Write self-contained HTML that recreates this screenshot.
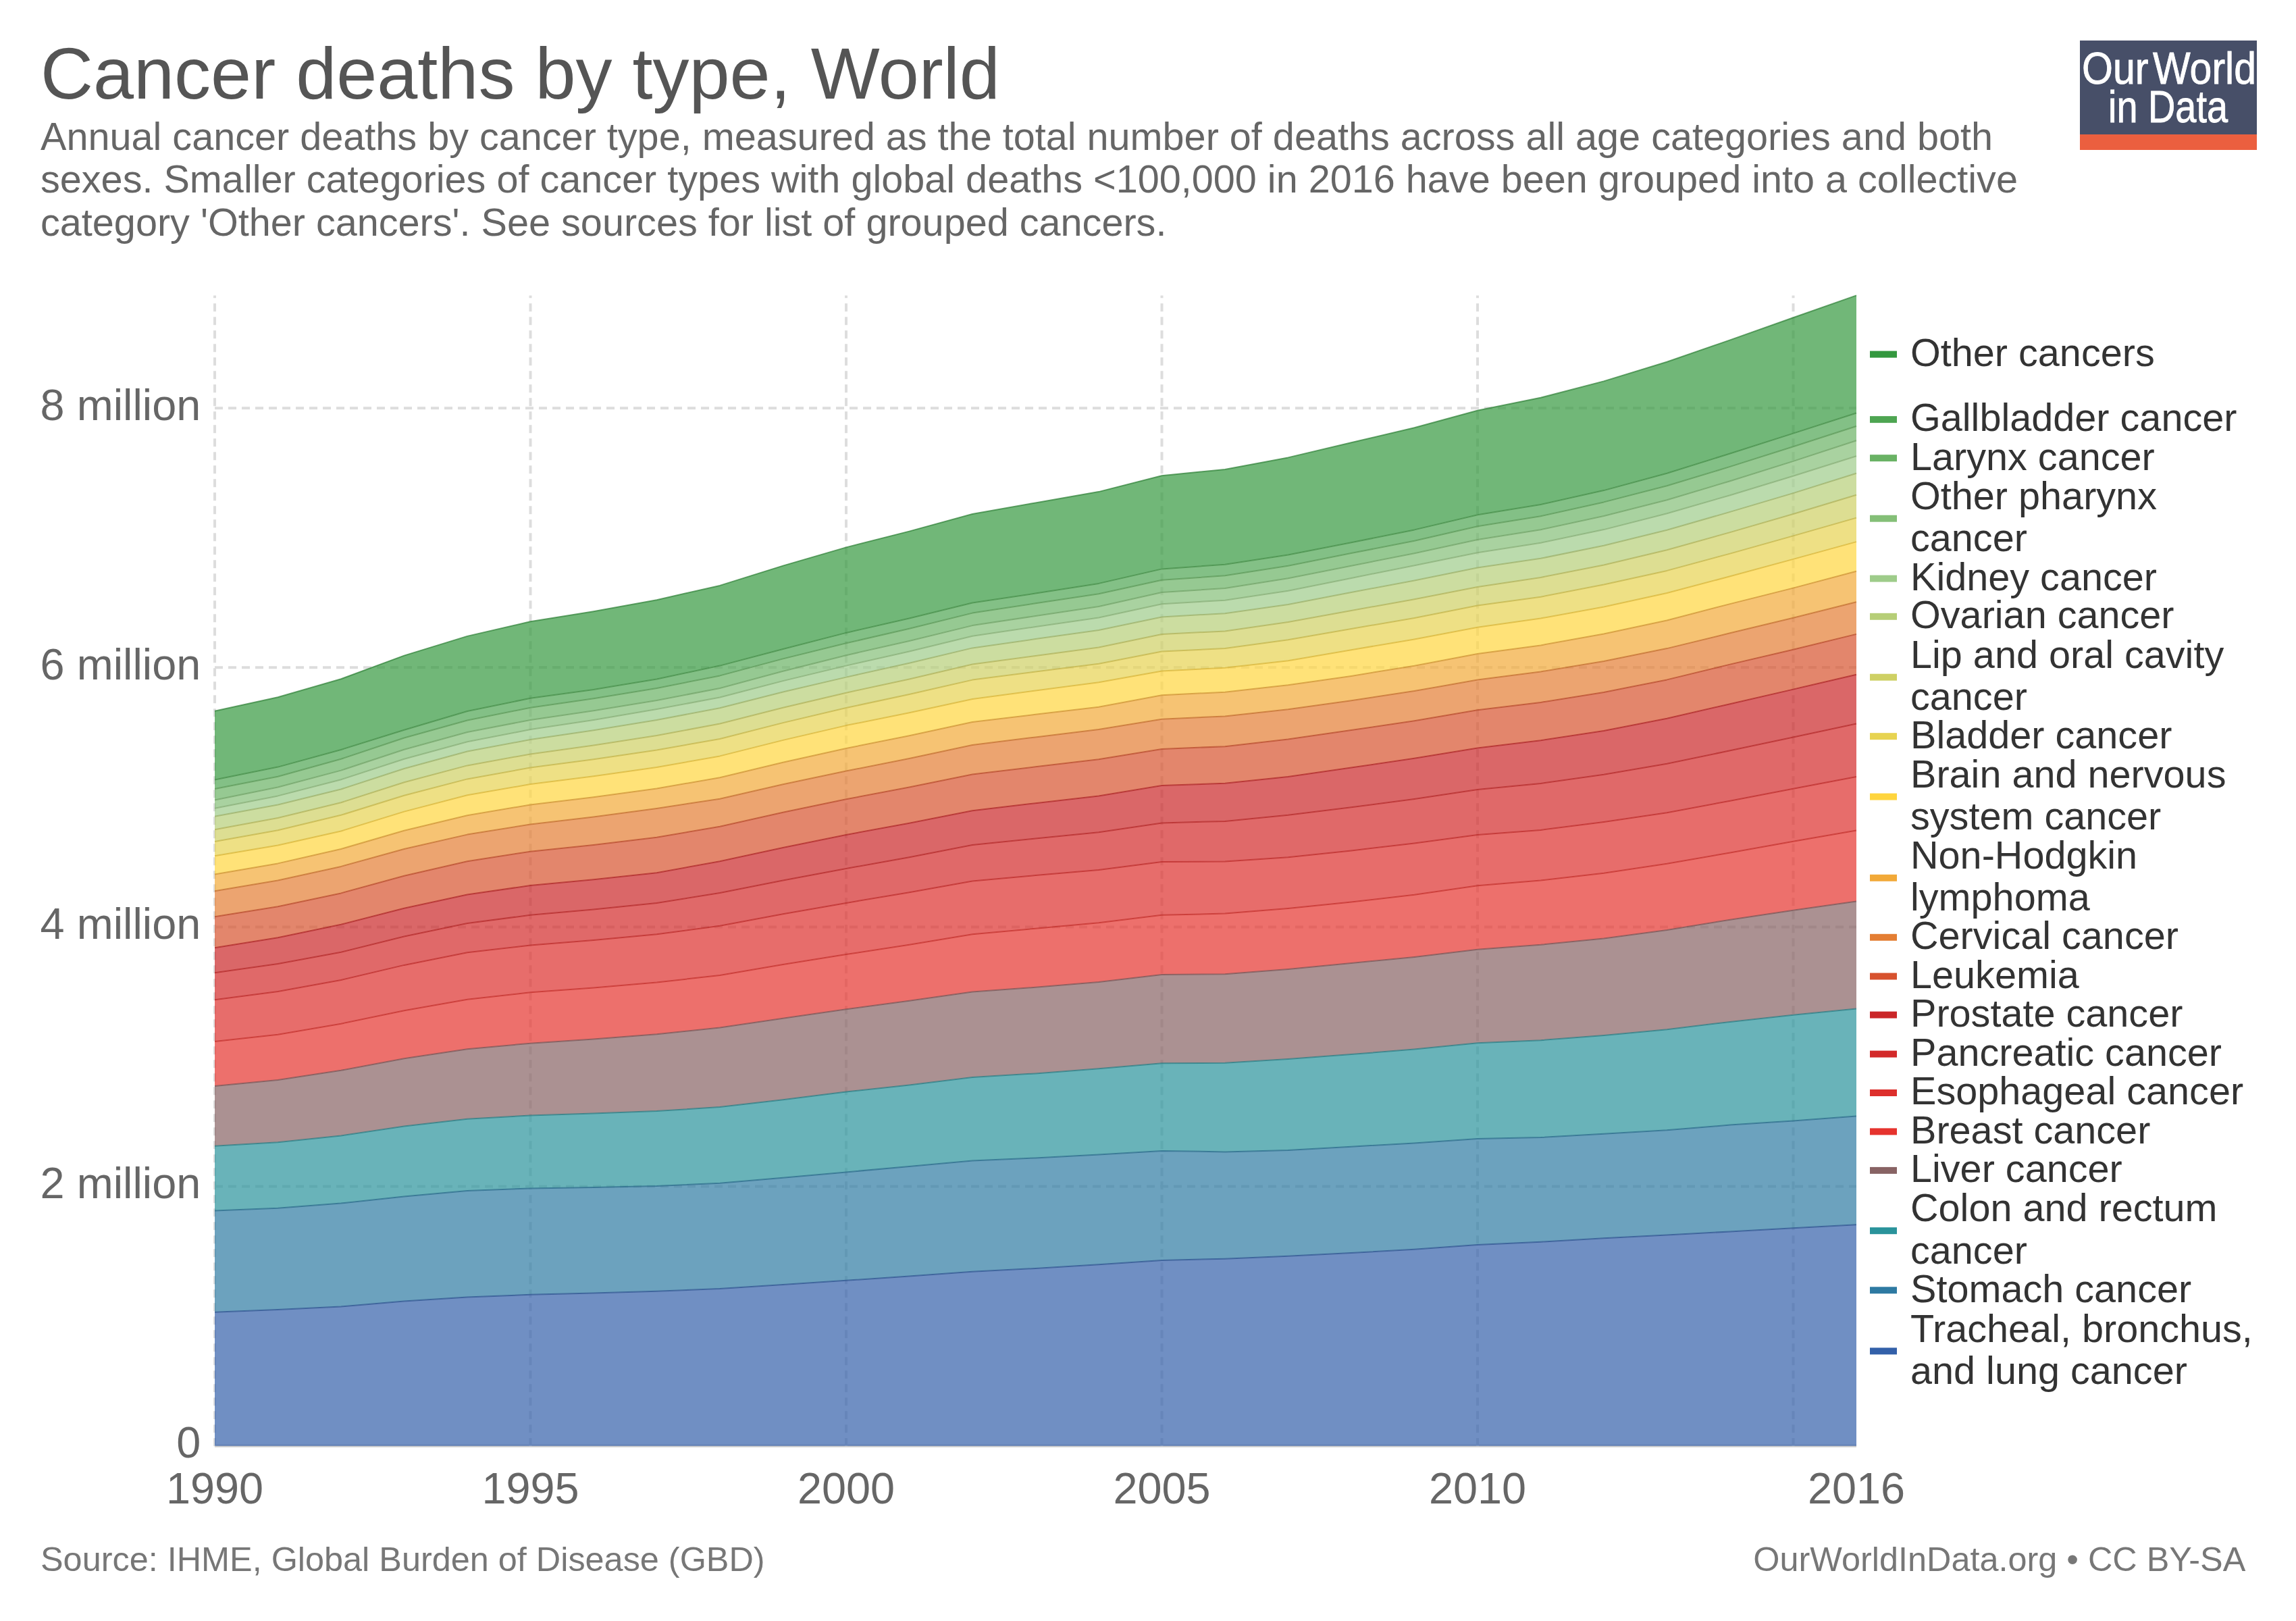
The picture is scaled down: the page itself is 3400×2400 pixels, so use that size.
<!DOCTYPE html>
<html lang="en"><head><meta charset="utf-8"><title>Cancer deaths by type, World</title>
<style>html,body{margin:0;padding:0;background:#fff}svg{display:block}text{font-family:"Liberation Sans",Arial,Helvetica,sans-serif}</style></head><body>
<svg width="3400" height="2400" viewBox="0 0 3400 2400">
<rect width="3400" height="2400" fill="#fff"/>
<text x="60" y="146" font-size="108" fill="#555">Cancer deaths by type, World</text>
<text x="60" y="221.9" font-size="57.6" fill="#666">Annual cancer deaths by cancer type, measured as the total number of deaths across all age categories and both</text>
<text x="60" y="285.3" font-size="57.6" fill="#666">sexes. Smaller categories of cancer types with global deaths &lt;100,000 in 2016 have been grouped into a collective</text>
<text x="60" y="348.6" font-size="57.6" fill="#666">category 'Other cancers'. See sources for list of grouped cancers.</text>
<g id="logo"><rect x="3080" y="60" width="262" height="162" fill="#474f68"/><rect x="3080" y="199" width="262" height="23" fill="#eb5f3f"/>
<g fill="#fff" stroke="#fff" stroke-width="0.9" font-size="66"><text x="3083" y="123.5" textLength="98.5" lengthAdjust="spacingAndGlyphs">Our</text>
<text x="3188" y="123.5" textLength="153" lengthAdjust="spacingAndGlyphs">World</text>
<text x="3122" y="181" textLength="177" lengthAdjust="spacingAndGlyphs">in Data</text></g></g>
<line x1="318.0" y1="2140.7" x2="2749.0" y2="2140.7" stroke="#ccc" stroke-width="4"/>
<g stroke="#ddd" stroke-width="4" stroke-dasharray="12,8" fill="none"><line x1="318.0" y1="1756.6" x2="2749.0" y2="1756.6"/><line x1="318.0" y1="1372.5" x2="2749.0" y2="1372.5"/><line x1="318.0" y1="988.3" x2="2749.0" y2="988.3"/><line x1="318.0" y1="604.2" x2="2749.0" y2="604.2"/><line x1="318.0" y1="2141.2" x2="318.0" y2="437.4"/><line x1="785.5" y1="2141.2" x2="785.5" y2="437.4"/><line x1="1253.0" y1="2141.2" x2="1253.0" y2="437.4"/><line x1="1720.5" y1="2141.2" x2="1720.5" y2="437.4"/><line x1="2188.0" y1="2141.2" x2="2188.0" y2="437.4"/><line x1="2655.5" y1="2141.2" x2="2655.5" y2="437.4"/></g>
<text x="297.3" y="2158.4" font-size="64.8" fill="#666" text-anchor="end">0</text>
<text x="297.3" y="1774.3" font-size="64.8" fill="#666" text-anchor="end">2 million</text>
<text x="297.3" y="1390.2" font-size="64.8" fill="#666" text-anchor="end">4 million</text>
<text x="297.3" y="1006.0" font-size="64.8" fill="#666" text-anchor="end">6 million</text>
<text x="297.3" y="621.9" font-size="64.8" fill="#666" text-anchor="end">8 million</text>
<text x="318.0" y="2226" font-size="64.8" fill="#666" text-anchor="middle">1990</text>
<text x="785.5" y="2226" font-size="64.8" fill="#666" text-anchor="middle">1995</text>
<text x="1253.0" y="2226" font-size="64.8" fill="#666" text-anchor="middle">2000</text>
<text x="1720.5" y="2226" font-size="64.8" fill="#666" text-anchor="middle">2005</text>
<text x="2188.0" y="2226" font-size="64.8" fill="#666" text-anchor="middle">2010</text>
<text x="2749.0" y="2226" font-size="64.8" fill="#666" text-anchor="middle">2016</text>
<g id="areas">
<polygon points="318.0,1942.7 411.5,1939.0 505.0,1934.4 598.5,1926.6 692.0,1920.5 785.5,1916.8 879.0,1914.5 972.5,1911.8 1066.0,1908.1 1159.5,1902.0 1253.0,1895.8 1346.5,1889.6 1440.0,1882.8 1533.5,1877.9 1627.0,1872.3 1720.5,1865.9 1814.0,1863.7 1907.5,1859.7 2001.0,1855.1 2094.5,1849.8 2188.0,1842.9 2281.5,1838.7 2375.0,1833.3 2468.5,1828.6 2562.0,1823.4 2655.5,1818.2 2749.0,1813.2 2749.0,2140.7 2655.5,2140.7 2562.0,2140.7 2468.5,2140.7 2375.0,2140.7 2281.5,2140.7 2188.0,2140.7 2094.5,2140.7 2001.0,2140.7 1907.5,2140.7 1814.0,2140.7 1720.5,2140.7 1627.0,2140.7 1533.5,2140.7 1440.0,2140.7 1346.5,2140.7 1253.0,2140.7 1159.5,2140.7 1066.0,2140.7 972.5,2140.7 879.0,2140.7 785.5,2140.7 692.0,2140.7 598.5,2140.7 505.0,2140.7 411.5,2140.7 318.0,2140.7" fill="#3360a9" fill-opacity="0.7"/>
<polygon points="318.0,1792.4 411.5,1788.7 505.0,1781.6 598.5,1771.5 692.0,1763.1 785.5,1759.4 879.0,1758.0 972.5,1756.1 1066.0,1751.7 1159.5,1743.7 1253.0,1735.4 1346.5,1727.0 1440.0,1718.4 1533.5,1714.4 1627.0,1709.6 1720.5,1703.9 1814.0,1705.4 1907.5,1703.0 2001.0,1697.7 2094.5,1692.5 2188.0,1686.0 2281.5,1684.0 2375.0,1678.8 2468.5,1673.3 2562.0,1665.6 2655.5,1659.4 2749.0,1652.6 2749.0,1813.2 2655.5,1818.2 2562.0,1823.4 2468.5,1828.6 2375.0,1833.3 2281.5,1838.7 2188.0,1842.9 2094.5,1849.8 2001.0,1855.1 1907.5,1859.7 1814.0,1863.7 1720.5,1865.9 1627.0,1872.3 1533.5,1877.9 1440.0,1882.8 1346.5,1889.6 1253.0,1895.8 1159.5,1902.0 1066.0,1908.1 972.5,1911.8 879.0,1914.5 785.5,1916.8 692.0,1920.5 598.5,1926.6 505.0,1934.4 411.5,1939.0 318.0,1942.7" fill="#2e7aa2" fill-opacity="0.7"/>
<polygon points="318.0,1696.8 411.5,1691.3 505.0,1681.4 598.5,1667.5 692.0,1656.7 785.5,1651.5 879.0,1648.6 972.5,1645.1 1066.0,1639.1 1159.5,1628.3 1253.0,1616.6 1346.5,1606.4 1440.0,1595.0 1533.5,1589.4 1627.0,1582.3 1720.5,1574.3 1814.0,1573.7 1907.5,1568.1 2001.0,1561.0 2094.5,1553.6 2188.0,1544.3 2281.5,1540.2 2375.0,1532.9 2468.5,1524.3 2562.0,1512.9 2655.5,1502.7 2749.0,1493.4 2749.0,1652.6 2655.5,1659.4 2562.0,1665.6 2468.5,1673.3 2375.0,1678.8 2281.5,1684.0 2188.0,1686.0 2094.5,1692.5 2001.0,1697.7 1907.5,1703.0 1814.0,1705.4 1720.5,1703.9 1627.0,1709.6 1533.5,1714.4 1440.0,1718.4 1346.5,1727.0 1253.0,1735.4 1159.5,1743.7 1066.0,1751.7 972.5,1756.1 879.0,1758.0 785.5,1759.4 692.0,1763.1 598.5,1771.5 505.0,1781.6 411.5,1788.7 318.0,1792.4" fill="#2a939b" fill-opacity="0.7"/>
<polygon points="318.0,1608.0 411.5,1599.0 505.0,1584.8 598.5,1567.2 692.0,1553.3 785.5,1544.7 879.0,1538.4 972.5,1531.3 1066.0,1521.5 1159.5,1507.7 1253.0,1494.2 1346.5,1481.8 1440.0,1468.5 1533.5,1461.7 1627.0,1454.0 1720.5,1443.1 1814.0,1442.2 1907.5,1435.0 2001.0,1426.1 2094.5,1416.9 2188.0,1405.7 2281.5,1398.8 2375.0,1389.5 2468.5,1377.1 2562.0,1361.7 2655.5,1347.8 2749.0,1334.5 2749.0,1493.4 2655.5,1502.7 2562.0,1512.9 2468.5,1524.3 2375.0,1532.9 2281.5,1540.2 2188.0,1544.3 2094.5,1553.6 2001.0,1561.0 1907.5,1568.1 1814.0,1573.7 1720.5,1574.3 1627.0,1582.3 1533.5,1589.4 1440.0,1595.0 1346.5,1606.4 1253.0,1616.6 1159.5,1628.3 1066.0,1639.1 972.5,1645.1 879.0,1648.6 785.5,1651.5 692.0,1656.7 598.5,1667.5 505.0,1681.4 411.5,1691.3 318.0,1696.8" fill="#886364" fill-opacity="0.7"/>
<polygon points="318.0,1541.9 411.5,1531.8 505.0,1515.7 598.5,1496.3 692.0,1479.8 785.5,1469.3 879.0,1462.4 972.5,1454.5 1066.0,1444.0 1159.5,1428.0 1253.0,1413.1 1346.5,1398.7 1440.0,1383.2 1533.5,1374.7 1627.0,1366.3 1720.5,1354.8 1814.0,1352.6 1907.5,1344.9 2001.0,1335.6 2094.5,1324.8 2188.0,1311.2 2281.5,1303.4 2375.0,1292.7 2468.5,1278.8 2562.0,1262.5 2655.5,1245.8 2749.0,1229.5 2749.0,1334.5 2655.5,1347.8 2562.0,1361.7 2468.5,1377.1 2375.0,1389.5 2281.5,1398.8 2188.0,1405.7 2094.5,1416.9 2001.0,1426.1 1907.5,1435.0 1814.0,1442.2 1720.5,1443.1 1627.0,1454.0 1533.5,1461.7 1440.0,1468.5 1346.5,1481.8 1253.0,1494.2 1159.5,1507.7 1066.0,1521.5 972.5,1531.3 879.0,1538.4 785.5,1544.7 692.0,1553.3 598.5,1567.2 505.0,1584.8 411.5,1599.0 318.0,1608.0" fill="#e6332e" fill-opacity="0.7"/>
<polygon points="318.0,1480.3 411.5,1467.9 505.0,1451.0 598.5,1428.9 692.0,1410.3 785.5,1399.5 879.0,1391.9 972.5,1383.2 1066.0,1370.8 1159.5,1353.2 1253.0,1336.9 1346.5,1321.3 1440.0,1304.5 1533.5,1296.1 1627.0,1288.0 1720.5,1276.1 1814.0,1275.5 1907.5,1269.3 2001.0,1259.4 2094.5,1248.6 2188.0,1236.1 2281.5,1228.9 2375.0,1217.1 2468.5,1203.2 2562.0,1185.7 2655.5,1167.8 2749.0,1149.9 2749.0,1229.5 2655.5,1245.8 2562.0,1262.5 2468.5,1278.8 2375.0,1292.7 2281.5,1303.4 2188.0,1311.2 2094.5,1324.8 2001.0,1335.6 1907.5,1344.9 1814.0,1352.6 1720.5,1354.8 1627.0,1366.3 1533.5,1374.7 1440.0,1383.2 1346.5,1398.7 1253.0,1413.1 1159.5,1428.0 1066.0,1444.0 972.5,1454.5 879.0,1462.4 785.5,1469.3 692.0,1479.8 598.5,1496.3 505.0,1515.7 411.5,1531.8 318.0,1541.9" fill="#dd2f2c" fill-opacity="0.7"/>
<polygon points="318.0,1440.2 411.5,1427.1 505.0,1409.7 598.5,1386.5 692.0,1367.1 785.5,1354.8 879.0,1346.4 972.5,1336.9 1066.0,1322.1 1159.5,1303.4 1253.0,1286.0 1346.5,1269.2 1440.0,1251.1 1533.5,1241.5 1627.0,1232.2 1720.5,1218.4 1814.0,1215.9 1907.5,1206.7 2001.0,1195.3 2094.5,1182.9 2188.0,1169.1 2281.5,1160.0 2375.0,1146.8 2468.5,1130.7 2562.0,1111.3 2655.5,1091.6 2749.0,1071.5 2749.0,1149.9 2655.5,1167.8 2562.0,1185.7 2468.5,1203.2 2375.0,1217.1 2281.5,1228.9 2188.0,1236.1 2094.5,1248.6 2001.0,1259.4 1907.5,1269.3 1814.0,1275.5 1720.5,1276.1 1627.0,1288.0 1533.5,1296.1 1440.0,1304.5 1346.5,1321.3 1253.0,1336.9 1159.5,1353.2 1066.0,1370.8 972.5,1383.2 879.0,1391.9 785.5,1399.5 692.0,1410.3 598.5,1428.9 505.0,1451.0 411.5,1467.9 318.0,1480.3" fill="#d32a2a" fill-opacity="0.7"/>
<polygon points="318.0,1403.2 411.5,1388.2 505.0,1368.7 598.5,1344.7 692.0,1324.6 785.5,1311.0 879.0,1302.2 972.5,1292.2 1066.0,1275.2 1159.5,1254.9 1253.0,1236.0 1346.5,1218.7 1440.0,1200.2 1533.5,1189.2 1627.0,1178.5 1720.5,1162.9 1814.0,1159.8 1907.5,1149.9 2001.0,1136.6 2094.5,1122.8 2188.0,1107.4 2281.5,1096.2 2375.0,1082.0 2468.5,1063.8 2562.0,1042.2 2655.5,1020.6 2749.0,998.7 2749.0,1071.5 2655.5,1091.6 2562.0,1111.3 2468.5,1130.7 2375.0,1146.8 2281.5,1160.0 2188.0,1169.1 2094.5,1182.9 2001.0,1195.3 1907.5,1206.7 1814.0,1215.9 1720.5,1218.4 1627.0,1232.2 1533.5,1241.5 1440.0,1251.1 1346.5,1269.2 1253.0,1286.0 1159.5,1303.4 1066.0,1322.1 972.5,1336.9 879.0,1346.4 785.5,1354.8 692.0,1367.1 598.5,1386.5 505.0,1409.7 411.5,1427.1 318.0,1440.2" fill="#ca2628" fill-opacity="0.7"/>
<polygon points="318.0,1357.3 411.5,1342.3 505.0,1322.4 598.5,1296.7 692.0,1275.2 785.5,1260.7 879.0,1250.9 972.5,1239.7 1066.0,1223.7 1159.5,1202.7 1253.0,1183.3 1346.5,1165.6 1440.0,1146.6 1533.5,1135.3 1627.0,1124.3 1720.5,1108.9 1814.0,1105.2 1907.5,1094.4 2001.0,1081.1 2094.5,1067.2 2188.0,1051.3 2281.5,1039.9 2375.0,1024.9 2468.5,1006.4 2562.0,983.6 2655.5,961.7 2749.0,938.9 2749.0,998.7 2655.5,1020.6 2562.0,1042.2 2468.5,1063.8 2375.0,1082.0 2281.5,1096.2 2188.0,1107.4 2094.5,1122.8 2001.0,1136.6 1907.5,1149.9 1814.0,1159.8 1720.5,1162.9 1627.0,1178.5 1533.5,1189.2 1440.0,1200.2 1346.5,1218.7 1253.0,1236.0 1159.5,1254.9 1066.0,1275.2 972.5,1292.2 879.0,1302.2 785.5,1311.0 692.0,1324.6 598.5,1344.7 505.0,1368.7 411.5,1388.2 318.0,1403.2" fill="#d7522e" fill-opacity="0.7"/>
<polygon points="318.0,1319.3 411.5,1303.6 505.0,1282.9 598.5,1257.0 692.0,1235.6 785.5,1220.5 879.0,1209.5 972.5,1197.0 1066.0,1182.7 1159.5,1161.3 1253.0,1141.6 1346.5,1123.0 1440.0,1103.1 1533.5,1091.4 1627.0,1080.0 1720.5,1064.8 1814.0,1060.4 1907.5,1050.3 2001.0,1037.3 2094.5,1023.1 2188.0,1006.6 2281.5,994.4 2375.0,979.0 2468.5,960.1 2562.0,937.3 2655.5,914.8 2749.0,891.3 2749.0,938.9 2655.5,961.7 2562.0,983.6 2468.5,1006.4 2375.0,1024.9 2281.5,1039.9 2188.0,1051.3 2094.5,1067.2 2001.0,1081.1 1907.5,1094.4 1814.0,1105.2 1720.5,1108.9 1627.0,1124.3 1533.5,1135.3 1440.0,1146.6 1346.5,1165.6 1253.0,1183.3 1159.5,1202.7 1066.0,1223.7 972.5,1239.7 879.0,1250.9 785.5,1260.7 692.0,1275.2 598.5,1296.7 505.0,1322.4 411.5,1342.3 318.0,1357.3" fill="#e47e33" fill-opacity="0.7"/>
<polygon points="318.0,1294.6 411.5,1278.4 505.0,1257.0 598.5,1229.8 692.0,1207.2 785.5,1191.5 879.0,1180.2 972.5,1167.5 1066.0,1151.2 1159.5,1128.8 1253.0,1108.0 1346.5,1089.2 1440.0,1069.0 1533.5,1057.8 1627.0,1046.8 1720.5,1029.3 1814.0,1024.7 1907.5,1014.2 2001.0,1000.9 2094.5,985.7 2188.0,967.9 2281.5,955.4 2375.0,938.5 2468.5,918.5 2562.0,894.1 2655.5,870.6 2749.0,845.8 2749.0,891.3 2655.5,914.8 2562.0,937.3 2468.5,960.1 2375.0,979.0 2281.5,994.4 2188.0,1006.6 2094.5,1023.1 2001.0,1037.3 1907.5,1050.3 1814.0,1060.4 1720.5,1064.8 1627.0,1080.0 1533.5,1091.4 1440.0,1103.1 1346.5,1123.0 1253.0,1141.6 1159.5,1161.3 1066.0,1182.7 972.5,1197.0 879.0,1209.5 785.5,1220.5 692.0,1235.6 598.5,1257.0 505.0,1282.9 411.5,1303.6 318.0,1319.3" fill="#f2a938" fill-opacity="0.7"/>
<polygon points="318.0,1267.2 411.5,1251.5 505.0,1230.5 598.5,1201.6 692.0,1177.3 785.5,1161.1 879.0,1149.3 972.5,1136.0 1066.0,1119.4 1159.5,1095.9 1253.0,1074.1 1346.5,1055.3 1440.0,1035.0 1533.5,1022.5 1627.0,1010.2 1720.5,993.4 1814.0,988.8 1907.5,978.3 2001.0,962.2 2094.5,946.4 2188.0,928.7 2281.5,915.5 2375.0,898.4 2468.5,878.0 2562.0,853.3 2655.5,827.9 2749.0,802.1 2749.0,845.8 2655.5,870.6 2562.0,894.1 2468.5,918.5 2375.0,938.5 2281.5,955.4 2188.0,967.9 2094.5,985.7 2001.0,1000.9 1907.5,1014.2 1814.0,1024.7 1720.5,1029.3 1627.0,1046.8 1533.5,1057.8 1440.0,1069.0 1346.5,1089.2 1253.0,1108.0 1159.5,1128.8 1066.0,1151.2 972.5,1167.5 879.0,1180.2 785.5,1191.5 692.0,1207.2 598.5,1229.8 505.0,1257.0 411.5,1278.4 318.0,1294.6" fill="#ffd53e" fill-opacity="0.7"/>
<polygon points="318.0,1246.1 411.5,1229.2 505.0,1206.8 598.5,1177.7 692.0,1153.4 785.5,1136.6 879.0,1124.3 972.5,1110.5 1066.0,1094.0 1159.5,1070.1 1253.0,1048.0 1346.5,1028.0 1440.0,1006.6 1533.5,994.5 1627.0,982.7 1720.5,964.5 1814.0,960.1 1907.5,947.3 2001.0,931.0 2094.5,914.9 2188.0,896.5 2281.5,883.7 2375.0,865.6 2468.5,844.9 2562.0,819.6 2655.5,793.4 2749.0,766.6 2749.0,802.1 2655.5,827.9 2562.0,853.3 2468.5,878.0 2375.0,898.4 2281.5,915.5 2188.0,928.7 2094.5,946.4 2001.0,962.2 1907.5,978.3 1814.0,988.8 1720.5,993.4 1627.0,1010.2 1533.5,1022.5 1440.0,1035.0 1346.5,1055.3 1253.0,1074.1 1159.5,1095.9 1066.0,1119.4 972.5,1136.0 879.0,1149.3 785.5,1161.1 692.0,1177.3 598.5,1201.6 505.0,1230.5 411.5,1251.5 318.0,1267.2" fill="#e7d351" fill-opacity="0.7"/>
<polygon points="318.0,1228.2 411.5,1211.0 505.0,1188.2 598.5,1158.3 692.0,1133.4 785.5,1116.4 879.0,1103.5 972.5,1089.0 1066.0,1071.5 1159.5,1047.7 1253.0,1025.7 1346.5,1005.4 1440.0,983.5 1533.5,970.9 1627.0,958.5 1720.5,939.0 1814.0,934.4 1907.5,921.1 2001.0,904.0 2094.5,887.2 2188.0,869.0 2281.5,854.9 2375.0,836.5 2468.5,814.3 2562.0,788.1 2655.5,761.0 2749.0,732.7 2749.0,766.6 2655.5,793.4 2562.0,819.6 2468.5,844.9 2375.0,865.6 2281.5,883.7 2188.0,896.5 2094.5,914.9 2001.0,931.0 1907.5,947.3 1814.0,960.1 1720.5,964.5 1627.0,982.7 1533.5,994.5 1440.0,1006.6 1346.5,1028.0 1253.0,1048.0 1159.5,1070.1 1066.0,1094.0 972.5,1110.5 879.0,1124.3 785.5,1136.6 692.0,1153.4 598.5,1177.7 505.0,1206.8 411.5,1229.2 318.0,1246.1" fill="#ced064" fill-opacity="0.7"/>
<polygon points="318.0,1208.8 411.5,1191.5 505.0,1168.5 598.5,1138.0 692.0,1112.5 785.5,1095.0 879.0,1081.3 972.5,1066.0 1066.0,1048.3 1159.5,1024.5 1253.0,1002.6 1346.5,981.8 1440.0,959.4 1533.5,946.1 1627.0,933.0 1720.5,913.4 1814.0,908.2 1907.5,894.9 2001.0,877.0 2094.5,859.4 2188.0,840.5 2281.5,826.8 2375.0,807.8 2468.5,784.7 2562.0,757.9 2655.5,730.1 2749.0,700.7 2749.0,732.7 2655.5,761.0 2562.0,788.1 2468.5,814.3 2375.0,836.5 2281.5,854.9 2188.0,869.0 2094.5,887.2 2001.0,904.0 1907.5,921.1 1814.0,934.4 1720.5,939.0 1627.0,958.5 1533.5,970.9 1440.0,983.5 1346.5,1005.4 1253.0,1025.7 1159.5,1047.7 1066.0,1071.5 972.5,1089.0 879.0,1103.5 785.5,1116.4 692.0,1133.4 598.5,1158.3 505.0,1188.2 411.5,1211.0 318.0,1228.2" fill="#b6ce77" fill-opacity="0.7"/>
<polygon points="318.0,1196.7 411.5,1178.4 505.0,1154.2 598.5,1123.7 692.0,1098.3 785.5,1080.1 879.0,1065.9 972.5,1050.0 1066.0,1032.5 1159.5,1008.1 1253.0,985.6 1346.5,964.5 1440.0,941.8 1533.5,928.0 1627.0,914.5 1720.5,894.3 1814.0,888.7 1907.5,874.8 2001.0,855.9 2094.5,837.2 2188.0,818.2 2281.5,803.7 2375.0,784.1 2468.5,760.3 2562.0,733.2 2655.5,704.8 2749.0,675.3 2749.0,700.7 2655.5,730.1 2562.0,757.9 2468.5,784.7 2375.0,807.8 2281.5,826.8 2188.0,840.5 2094.5,859.4 2001.0,877.0 1907.5,894.9 1814.0,908.2 1720.5,913.4 1627.0,933.0 1533.5,946.1 1440.0,959.4 1346.5,981.8 1253.0,1002.6 1159.5,1024.5 1066.0,1048.3 972.5,1066.0 879.0,1081.3 785.5,1095.0 692.0,1112.5 598.5,1138.0 505.0,1168.5 411.5,1191.5 318.0,1208.8" fill="#9ecc8a" fill-opacity="0.7"/>
<polygon points="318.0,1184.4 411.5,1165.5 505.0,1140.6 598.5,1109.7 692.0,1084.0 785.5,1066.0 879.0,1052.3 972.5,1037.0 1066.0,1019.0 1159.5,993.7 1253.0,970.2 1346.5,948.9 1440.0,926.1 1533.5,912.0 1627.0,898.1 1720.5,877.0 1814.0,871.1 1907.5,856.3 2001.0,837.7 2094.5,819.3 2188.0,799.0 2281.5,784.2 2375.0,764.0 2468.5,740.3 2562.0,712.2 2655.5,682.9 2749.0,652.2 2749.0,675.3 2655.5,704.8 2562.0,733.2 2468.5,760.3 2375.0,784.1 2281.5,803.7 2188.0,818.2 2094.5,837.2 2001.0,855.9 1907.5,874.8 1814.0,888.7 1720.5,894.3 1627.0,914.5 1533.5,928.0 1440.0,941.8 1346.5,964.5 1253.0,985.6 1159.5,1008.1 1066.0,1032.5 972.5,1050.0 879.0,1065.9 785.5,1080.1 692.0,1098.3 598.5,1123.7 505.0,1154.2 411.5,1178.4 318.0,1196.7" fill="#84bf77" fill-opacity="0.7"/>
<polygon points="318.0,1168.0 411.5,1149.8 505.0,1123.8 598.5,1092.5 692.0,1066.5 785.5,1047.7 879.0,1034.2 972.5,1019.0 1066.0,1000.4 1159.5,975.4 1253.0,952.3 1346.5,930.8 1440.0,907.6 1533.5,893.3 1627.0,879.3 1720.5,858.8 1814.0,852.3 1907.5,837.8 2001.0,819.1 2094.5,800.8 2188.0,779.3 2281.5,764.2 2375.0,743.4 2468.5,719.3 2562.0,690.9 2655.5,661.3 2749.0,631.0 2749.0,652.2 2655.5,682.9 2562.0,712.2 2468.5,740.3 2375.0,764.0 2281.5,784.2 2188.0,799.0 2094.5,819.3 2001.0,837.7 1907.5,856.3 1814.0,871.1 1720.5,877.0 1627.0,898.1 1533.5,912.0 1440.0,926.1 1346.5,948.9 1253.0,970.2 1159.5,993.7 1066.0,1019.0 972.5,1037.0 879.0,1052.3 785.5,1066.0 692.0,1084.0 598.5,1109.7 505.0,1140.6 411.5,1165.5 318.0,1184.4" fill="#69b264" fill-opacity="0.7"/>
<polygon points="318.0,1154.6 411.5,1135.6 505.0,1110.0 598.5,1080.7 692.0,1053.0 785.5,1033.8 879.0,1020.9 972.5,1005.4 1066.0,985.6 1159.5,961.0 1253.0,936.9 1346.5,915.6 1440.0,892.5 1533.5,878.6 1627.0,863.9 1720.5,842.4 1814.0,835.7 1907.5,821.5 2001.0,803.3 2094.5,784.4 2188.0,762.3 2281.5,747.0 2375.0,726.1 2468.5,700.8 2562.0,671.5 2655.5,641.6 2749.0,611.5 2749.0,631.0 2655.5,661.3 2562.0,690.9 2468.5,719.3 2375.0,743.4 2281.5,764.2 2188.0,779.3 2094.5,800.8 2001.0,819.1 1907.5,837.8 1814.0,852.3 1720.5,858.8 1627.0,879.3 1533.5,893.3 1440.0,907.6 1346.5,930.8 1253.0,952.3 1159.5,975.4 1066.0,1000.4 972.5,1019.0 879.0,1034.2 785.5,1047.7 692.0,1066.5 598.5,1092.5 505.0,1123.8 411.5,1149.8 318.0,1168.0" fill="#4ea552" fill-opacity="0.7"/>
<polygon points="318.0,1052.7 411.5,1032.3 505.0,1005.2 598.5,970.6 692.0,941.9 785.5,920.3 879.0,905.2 972.5,888.2 1066.0,866.9 1159.5,837.6 1253.0,810.4 1346.5,786.6 1440.0,761.0 1533.5,744.4 1627.0,728.1 1720.5,704.2 1814.0,695.0 1907.5,677.4 2001.0,655.2 2094.5,633.3 2188.0,607.8 2281.5,588.8 2375.0,564.4 2468.5,535.7 2562.0,503.4 2655.5,470.3 2749.0,437.4 2749.0,611.5 2655.5,641.6 2562.0,671.5 2468.5,700.8 2375.0,726.1 2281.5,747.0 2188.0,762.3 2094.5,784.4 2001.0,803.3 1907.5,821.5 1814.0,835.7 1720.5,842.4 1627.0,863.9 1533.5,878.6 1440.0,892.5 1346.5,915.6 1253.0,936.9 1159.5,961.0 1066.0,985.6 972.5,1005.4 879.0,1020.9 785.5,1033.8 692.0,1053.0 598.5,1080.7 505.0,1110.0 411.5,1135.6 318.0,1154.6" fill="#34983f" fill-opacity="0.7"/>
</g>
<g id="borders" fill="none" stroke-opacity="0.7" stroke-width="2" stroke-linecap="butt" stroke-linejoin="round"><polyline points="318.0,1942.7 411.5,1939.0 505.0,1934.4 598.5,1926.6 692.0,1920.5 785.5,1916.8 879.0,1914.5 972.5,1911.8 1066.0,1908.1 1159.5,1902.0 1253.0,1895.8 1346.5,1889.6 1440.0,1882.8 1533.5,1877.9 1627.0,1872.3 1720.5,1865.9 1814.0,1863.7 1907.5,1859.7 2001.0,1855.1 2094.5,1849.8 2188.0,1842.9 2281.5,1838.7 2375.0,1833.3 2468.5,1828.6 2562.0,1823.4 2655.5,1818.2 2749.0,1813.2" stroke="#2b508d"/>
<polyline points="318.0,1792.4 411.5,1788.7 505.0,1781.6 598.5,1771.5 692.0,1763.1 785.5,1759.4 879.0,1758.0 972.5,1756.1 1066.0,1751.7 1159.5,1743.7 1253.0,1735.4 1346.5,1727.0 1440.0,1718.4 1533.5,1714.4 1627.0,1709.6 1720.5,1703.9 1814.0,1705.4 1907.5,1703.0 2001.0,1697.7 2094.5,1692.5 2188.0,1686.0 2281.5,1684.0 2375.0,1678.8 2468.5,1673.3 2562.0,1665.6 2655.5,1659.4 2749.0,1652.6" stroke="#276688"/>
<polyline points="318.0,1696.8 411.5,1691.3 505.0,1681.4 598.5,1667.5 692.0,1656.7 785.5,1651.5 879.0,1648.6 972.5,1645.1 1066.0,1639.1 1159.5,1628.3 1253.0,1616.6 1346.5,1606.4 1440.0,1595.0 1533.5,1589.4 1627.0,1582.3 1720.5,1574.3 1814.0,1573.7 1907.5,1568.1 2001.0,1561.0 2094.5,1553.6 2188.0,1544.3 2281.5,1540.2 2375.0,1532.9 2468.5,1524.3 2562.0,1512.9 2655.5,1502.7 2749.0,1493.4" stroke="#237b82"/>
<polyline points="318.0,1608.0 411.5,1599.0 505.0,1584.8 598.5,1567.2 692.0,1553.3 785.5,1544.7 879.0,1538.4 972.5,1531.3 1066.0,1521.5 1159.5,1507.7 1253.0,1494.2 1346.5,1481.8 1440.0,1468.5 1533.5,1461.7 1627.0,1454.0 1720.5,1443.1 1814.0,1442.2 1907.5,1435.0 2001.0,1426.1 2094.5,1416.9 2188.0,1405.7 2281.5,1398.8 2375.0,1389.5 2468.5,1377.1 2562.0,1361.7 2655.5,1347.8 2749.0,1334.5" stroke="#725354"/>
<polyline points="318.0,1541.9 411.5,1531.8 505.0,1515.7 598.5,1496.3 692.0,1479.8 785.5,1469.3 879.0,1462.4 972.5,1454.5 1066.0,1444.0 1159.5,1428.0 1253.0,1413.1 1346.5,1398.7 1440.0,1383.2 1533.5,1374.7 1627.0,1366.3 1720.5,1354.8 1814.0,1352.6 1907.5,1344.9 2001.0,1335.6 2094.5,1324.8 2188.0,1311.2 2281.5,1303.4 2375.0,1292.7 2468.5,1278.8 2562.0,1262.5 2655.5,1245.8 2749.0,1229.5" stroke="#c02b26"/>
<polyline points="318.0,1480.3 411.5,1467.9 505.0,1451.0 598.5,1428.9 692.0,1410.3 785.5,1399.5 879.0,1391.9 972.5,1383.2 1066.0,1370.8 1159.5,1353.2 1253.0,1336.9 1346.5,1321.3 1440.0,1304.5 1533.5,1296.1 1627.0,1288.0 1720.5,1276.1 1814.0,1275.5 1907.5,1269.3 2001.0,1259.4 2094.5,1248.6 2188.0,1236.1 2281.5,1228.9 2375.0,1217.1 2468.5,1203.2 2562.0,1185.7 2655.5,1167.8 2749.0,1149.9" stroke="#b92725"/>
<polyline points="318.0,1440.2 411.5,1427.1 505.0,1409.7 598.5,1386.5 692.0,1367.1 785.5,1354.8 879.0,1346.4 972.5,1336.9 1066.0,1322.1 1159.5,1303.4 1253.0,1286.0 1346.5,1269.2 1440.0,1251.1 1533.5,1241.5 1627.0,1232.2 1720.5,1218.4 1814.0,1215.9 1907.5,1206.7 2001.0,1195.3 2094.5,1182.9 2188.0,1169.1 2281.5,1160.0 2375.0,1146.8 2468.5,1130.7 2562.0,1111.3 2655.5,1091.6 2749.0,1071.5" stroke="#b12323"/>
<polyline points="318.0,1403.2 411.5,1388.2 505.0,1368.7 598.5,1344.7 692.0,1324.6 785.5,1311.0 879.0,1302.2 972.5,1292.2 1066.0,1275.2 1159.5,1254.9 1253.0,1236.0 1346.5,1218.7 1440.0,1200.2 1533.5,1189.2 1627.0,1178.5 1720.5,1162.9 1814.0,1159.8 1907.5,1149.9 2001.0,1136.6 2094.5,1122.8 2188.0,1107.4 2281.5,1096.2 2375.0,1082.0 2468.5,1063.8 2562.0,1042.2 2655.5,1020.6 2749.0,998.7" stroke="#a92021"/>
<polyline points="318.0,1357.3 411.5,1342.3 505.0,1322.4 598.5,1296.7 692.0,1275.2 785.5,1260.7 879.0,1250.9 972.5,1239.7 1066.0,1223.7 1159.5,1202.7 1253.0,1183.3 1346.5,1165.6 1440.0,1146.6 1533.5,1135.3 1627.0,1124.3 1720.5,1108.9 1814.0,1105.2 1907.5,1094.4 2001.0,1081.1 2094.5,1067.2 2188.0,1051.3 2281.5,1039.9 2375.0,1024.9 2468.5,1006.4 2562.0,983.6 2655.5,961.7 2749.0,938.9" stroke="#b44426"/>
<polyline points="318.0,1319.3 411.5,1303.6 505.0,1282.9 598.5,1257.0 692.0,1235.6 785.5,1220.5 879.0,1209.5 972.5,1197.0 1066.0,1182.7 1159.5,1161.3 1253.0,1141.6 1346.5,1123.0 1440.0,1103.1 1533.5,1091.4 1627.0,1080.0 1720.5,1064.8 1814.0,1060.4 1907.5,1050.3 2001.0,1037.3 2094.5,1023.1 2188.0,1006.6 2281.5,994.4 2375.0,979.0 2468.5,960.1 2562.0,937.3 2655.5,914.8 2749.0,891.3" stroke="#bf692b"/>
<polyline points="318.0,1294.6 411.5,1278.4 505.0,1257.0 598.5,1229.8 692.0,1207.2 785.5,1191.5 879.0,1180.2 972.5,1167.5 1066.0,1151.2 1159.5,1128.8 1253.0,1108.0 1346.5,1089.2 1440.0,1069.0 1533.5,1057.8 1627.0,1046.8 1720.5,1029.3 1814.0,1024.7 1907.5,1014.2 2001.0,1000.9 2094.5,985.7 2188.0,967.9 2281.5,955.4 2375.0,938.5 2468.5,918.5 2562.0,894.1 2655.5,870.6 2749.0,845.8" stroke="#ca8e2f"/>
<polyline points="318.0,1267.2 411.5,1251.5 505.0,1230.5 598.5,1201.6 692.0,1177.3 785.5,1161.1 879.0,1149.3 972.5,1136.0 1066.0,1119.4 1159.5,1095.9 1253.0,1074.1 1346.5,1055.3 1440.0,1035.0 1533.5,1022.5 1627.0,1010.2 1720.5,993.4 1814.0,988.8 1907.5,978.3 2001.0,962.2 2094.5,946.4 2188.0,928.7 2281.5,915.5 2375.0,898.4 2468.5,878.0 2562.0,853.3 2655.5,827.9 2749.0,802.1" stroke="#d5b234"/>
<polyline points="318.0,1246.1 411.5,1229.2 505.0,1206.8 598.5,1177.7 692.0,1153.4 785.5,1136.6 879.0,1124.3 972.5,1110.5 1066.0,1094.0 1159.5,1070.1 1253.0,1048.0 1346.5,1028.0 1440.0,1006.6 1533.5,994.5 1627.0,982.7 1720.5,964.5 1814.0,960.1 1907.5,947.3 2001.0,931.0 2094.5,914.9 2188.0,896.5 2281.5,883.7 2375.0,865.6 2468.5,844.9 2562.0,819.6 2655.5,793.4 2749.0,766.6" stroke="#c1b044"/>
<polyline points="318.0,1228.2 411.5,1211.0 505.0,1188.2 598.5,1158.3 692.0,1133.4 785.5,1116.4 879.0,1103.5 972.5,1089.0 1066.0,1071.5 1159.5,1047.7 1253.0,1025.7 1346.5,1005.4 1440.0,983.5 1533.5,970.9 1627.0,958.5 1720.5,939.0 1814.0,934.4 1907.5,921.1 2001.0,904.0 2094.5,887.2 2188.0,869.0 2281.5,854.9 2375.0,836.5 2468.5,814.3 2562.0,788.1 2655.5,761.0 2749.0,732.7" stroke="#adae54"/>
<polyline points="318.0,1208.8 411.5,1191.5 505.0,1168.5 598.5,1138.0 692.0,1112.5 785.5,1095.0 879.0,1081.3 972.5,1066.0 1066.0,1048.3 1159.5,1024.5 1253.0,1002.6 1346.5,981.8 1440.0,959.4 1533.5,946.1 1627.0,933.0 1720.5,913.4 1814.0,908.2 1907.5,894.9 2001.0,877.0 2094.5,859.4 2188.0,840.5 2281.5,826.8 2375.0,807.8 2468.5,784.7 2562.0,757.9 2655.5,730.1 2749.0,700.7" stroke="#98ad64"/>
<polyline points="318.0,1196.7 411.5,1178.4 505.0,1154.2 598.5,1123.7 692.0,1098.3 785.5,1080.1 879.0,1065.9 972.5,1050.0 1066.0,1032.5 1159.5,1008.1 1253.0,985.6 1346.5,964.5 1440.0,941.8 1533.5,928.0 1627.0,914.5 1720.5,894.3 1814.0,888.7 1907.5,874.8 2001.0,855.9 2094.5,837.2 2188.0,818.2 2281.5,803.7 2375.0,784.1 2468.5,760.3 2562.0,733.2 2655.5,704.8 2749.0,675.3" stroke="#84ab73"/>
<polyline points="318.0,1184.4 411.5,1165.5 505.0,1140.6 598.5,1109.7 692.0,1084.0 785.5,1066.0 879.0,1052.3 972.5,1037.0 1066.0,1019.0 1159.5,993.7 1253.0,970.2 1346.5,948.9 1440.0,926.1 1533.5,912.0 1627.0,898.1 1720.5,877.0 1814.0,871.1 1907.5,856.3 2001.0,837.7 2094.5,819.3 2188.0,799.0 2281.5,784.2 2375.0,764.0 2468.5,740.3 2562.0,712.2 2655.5,682.9 2749.0,652.2" stroke="#6ea064"/>
<polyline points="318.0,1168.0 411.5,1149.8 505.0,1123.8 598.5,1092.5 692.0,1066.5 785.5,1047.7 879.0,1034.2 972.5,1019.0 1066.0,1000.4 1159.5,975.4 1253.0,952.3 1346.5,930.8 1440.0,907.6 1533.5,893.3 1627.0,879.3 1720.5,858.8 1814.0,852.3 1907.5,837.8 2001.0,819.1 2094.5,800.8 2188.0,779.3 2281.5,764.2 2375.0,743.4 2468.5,719.3 2562.0,690.9 2655.5,661.3 2749.0,631.0" stroke="#589554"/>
<polyline points="318.0,1154.6 411.5,1135.6 505.0,1110.0 598.5,1080.7 692.0,1053.0 785.5,1033.8 879.0,1020.9 972.5,1005.4 1066.0,985.6 1159.5,961.0 1253.0,936.9 1346.5,915.6 1440.0,892.5 1533.5,878.6 1627.0,863.9 1720.5,842.4 1814.0,835.7 1907.5,821.5 2001.0,803.3 2094.5,784.4 2188.0,762.3 2281.5,747.0 2375.0,726.1 2468.5,700.8 2562.0,671.5 2655.5,641.6 2749.0,611.5" stroke="#428a44"/>
<polyline points="318.0,1052.7 411.5,1032.3 505.0,1005.2 598.5,970.6 692.0,941.9 785.5,920.3 879.0,905.2 972.5,888.2 1066.0,866.9 1159.5,837.6 1253.0,810.4 1346.5,786.6 1440.0,761.0 1533.5,744.4 1627.0,728.1 1720.5,704.2 1814.0,695.0 1907.5,677.4 2001.0,655.2 2094.5,633.3 2188.0,607.8 2281.5,588.8 2375.0,564.4 2468.5,535.7 2562.0,503.4 2655.5,470.3 2749.0,437.4" stroke="#2c7f35"/></g>
<g id="legend" font-size="57.6" fill="#333">
<rect x="2769" y="519.6" width="40" height="10" fill="#34983f"/>
<text x="2829" y="541.9">Other cancers</text>
<rect x="2769" y="616.1" width="40" height="10" fill="#4ea552"/>
<text x="2829" y="638.4">Gallbladder cancer</text>
<rect x="2769" y="673.2" width="40" height="10" fill="#69b264"/>
<text x="2829" y="695.5">Larynx cancer</text>
<rect x="2769" y="762.7" width="40" height="10" fill="#84bf77"/>
<text x="2829" y="754.1">Other pharynx</text>
<text x="2829" y="815.8">cancer</text>
<rect x="2769" y="851.6" width="40" height="10" fill="#9ecc8a"/>
<text x="2829" y="873.9">Kidney cancer</text>
<rect x="2769" y="907.8" width="40" height="10" fill="#b6ce77"/>
<text x="2829" y="930.1">Ovarian cancer</text>
<rect x="2769" y="997.7" width="40" height="10" fill="#ced064"/>
<text x="2829" y="989.1">Lip and oral cavity</text>
<text x="2829" y="1050.8">cancer</text>
<rect x="2769" y="1085.2" width="40" height="10" fill="#e7d351"/>
<text x="2829" y="1107.5">Bladder cancer</text>
<rect x="2769" y="1174.6" width="40" height="10" fill="#ffd53e"/>
<text x="2829" y="1166.1">Brain and nervous</text>
<text x="2829" y="1227.8">system cancer</text>
<rect x="2769" y="1294.8" width="40" height="10" fill="#f2a938"/>
<text x="2829" y="1286.2">Non-Hodgkin</text>
<text x="2829" y="1348.0">lymphoma</text>
<rect x="2769" y="1382.8" width="40" height="10" fill="#e47e33"/>
<text x="2829" y="1405.1">Cervical cancer</text>
<rect x="2769" y="1440.5" width="40" height="10" fill="#d7522e"/>
<text x="2829" y="1462.8">Leukemia</text>
<rect x="2769" y="1497.6" width="40" height="10" fill="#ca2628"/>
<text x="2829" y="1519.9">Prostate cancer</text>
<rect x="2769" y="1555.6" width="40" height="10" fill="#d32a2a"/>
<text x="2829" y="1577.9">Pancreatic cancer</text>
<rect x="2769" y="1613.0" width="40" height="10" fill="#dd2f2c"/>
<text x="2829" y="1635.3">Esophageal cancer</text>
<rect x="2769" y="1670.4" width="40" height="10" fill="#e6332e"/>
<text x="2829" y="1692.7">Breast cancer</text>
<rect x="2769" y="1727.9" width="40" height="10" fill="#886364"/>
<text x="2829" y="1750.2">Liver cancer</text>
<rect x="2769" y="1817.2" width="40" height="10" fill="#2a939b"/>
<text x="2829" y="1807.6">Colon and rectum</text>
<text x="2829" y="1871.4">cancer</text>
<rect x="2769" y="1905.3" width="40" height="10" fill="#2e7aa2"/>
<text x="2829" y="1927.6">Stomach cancer</text>
<rect x="2769" y="1995.4" width="40" height="10" fill="#3360a9"/>
<text x="2829" y="1986.5">Tracheal, bronchus,</text>
<text x="2829" y="2048.8">and lung cancer</text>
</g>
<text x="60" y="2325.6" font-size="50.4" fill="#777">Source: IHME, Global Burden of Disease (GBD)</text>
<text x="3325.3" y="2325.6" font-size="50.4" fill="#777" text-anchor="end">OurWorldInData.org • CC BY-SA</text>
</svg></body></html>
